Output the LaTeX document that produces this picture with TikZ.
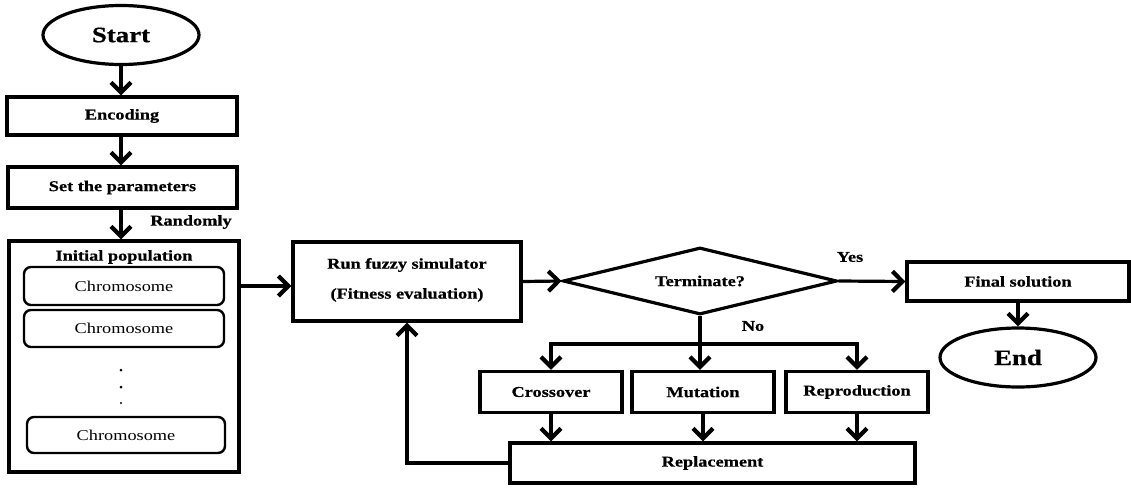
\documentclass[tikz,border=0pt]{standalone}
\usepackage{fontspec}
\setmainfont[FakeStretch=1.22,BoldFeatures={FakeBold=0.6}]{Liberation Serif}
\usetikzlibrary{arrows.meta,shapes.geometric}
\begin{document}
\begin{tikzpicture}[x=1pt,y=-1pt,
  box/.style={draw,line width=3.2pt,inner sep=0pt,font=\fontsize{15}{17}\selectfont\bfseries,align=center},
  chrom/.style={draw,line width=2.4pt,rounded corners=7pt,inner sep=0pt,font=\fontsize{15}{17}\selectfont},
  term/.style={draw,ellipse,line width=3.2pt,inner sep=0pt,minimum width=156pt,minimum height=59pt,font=\fontsize{22}{25}\selectfont\bfseries},
  lab/.style={font=\fontsize{15}{17}\selectfont\bfseries,inner sep=0pt},
  arr/.style={line width=3.2pt,-{Straight Barb[length=10pt,width=20pt,line width=4.2pt]}}]
\useasboundingbox (0,0) rectangle (1131,487);
% left column
\node[term] (start) at (121,35) {Start};
\node[box,minimum width=230pt,minimum height=38pt] (enc) at (122,116) {Encoding};
\node[box,minimum width=229pt,minimum height=41pt] (set) at (122.5,187.5) {Set the parameters};
\node[box,minimum width=230pt,minimum height=231pt] (init) at (124,356.5) {};
\node[lab] (inittitle) at (124,257) {Initial population};
\node[chrom,minimum width=200pt,minimum height=38pt] (c1) at (124,286) {Chromosome};
\node[chrom,minimum width=200pt,minimum height=37pt] (c2) at (124,328.5) {Chromosome};
\node[chrom,minimum width=198pt,minimum height=36pt] (c3) at (126,435) {Chromosome};
\fill (121,370) circle (1.5pt) (121,387) circle (1.5pt) (121,403) circle (1.2pt);
\node[lab] (rand) at (191,222) {Randomly};
% middle
\node[box,minimum width=228pt,minimum height=79pt] (fuzzy) at (407,281.5) {};
\node[lab] (fz1) at (407,265) {Run fuzzy simulator};
\node[lab] (fz2) at (407,295) {(Fitness evaluation)};
\node[draw,diamond,aspect=4.1,line width=3.2pt,inner sep=0pt,minimum width=274pt,minimum height=67pt,font=\fontsize{15}{17}\selectfont\bfseries] (termq) at (700,281) {Terminate?};
\node[box,minimum width=222pt,minimum height=39pt] (final) at (1018,281.5) {Final solution};
\node[term] (end) at (1018,357.5) {End};
\node[lab] (yes) at (850,257) {Yes};
\node[lab] (no) at (753,326) {No};
\node[box,minimum width=142pt,minimum height=41pt] (cross) at (551,392) {Crossover};
\node[box,minimum width=142pt,minimum height=41pt] (mut) at (703,392) {Mutation};
\node[box,minimum width=142pt,minimum height=41pt] (repro) at (857,392) {Reproduction};
\node[box,minimum width=405pt,minimum height=40pt] (repl) at (712.5,463) {Replacement};
% connectors
\draw[arr] (start.south) -- (start.south |- enc.north);
\draw[arr] (enc.south -| start.south) -- (start.south |- set.north);
\draw[arr] (set.south -| start.south) -- (start.south |- init.north);
\draw[arr] (init.east |- c1) -- (fuzzy.west |- c1);
\draw[arr] (fuzzy.east) -- (termq.west);
\draw[arr] (termq.east) -- (final.west);
\draw[arr] (final.south) -- (end.north);
\coordinate (split) at (700,344);
\draw[arr] (termq.south) -- (termq.south |- mut.north);
\draw[arr] (split) -| (cross.north);
\draw[arr] (split) -| (repro.north);
\draw[arr] (cross.south) -- (cross.south |- repl.north);
\draw[arr] (mut.south) -- (mut.south |- repl.north);
\draw[arr] (repro.south) -- (repro.south |- repl.north);
\draw[arr] (repl.west) -| (fuzzy.south);
\end{tikzpicture}
\end{document}
